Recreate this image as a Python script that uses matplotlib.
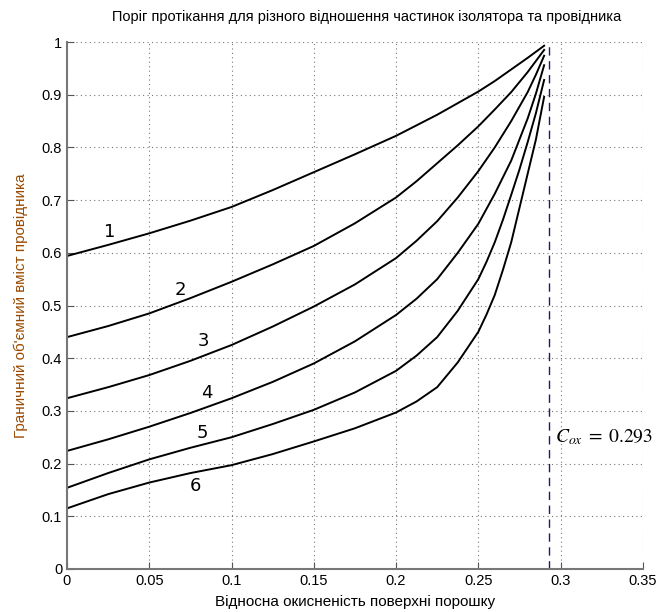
import numpy as np
import matplotlib
matplotlib.use('Agg')
import matplotlib.pyplot as plt

plt.rcParams['font.family'] = ['Liberation Sans', 'DejaVu Sans']
plt.rcParams['mathtext.fontset'] = 'stix'

# Data (surface oxidation vs threshold conductor fraction)
x1 = [0, 0.025, 0.05, 0.075, 0.1, 0.125, 0.15, 0.175, 0.2, 0.225, 0.2375,
      0.25, 0.26, 0.27, 0.28, 0.29]
y1 = [0.594, 0.615, 0.637, 0.661, 0.687, 0.719, 0.753, 0.787, 0.822, 0.862,
      0.884, 0.906, 0.926, 0.948, 0.970, 0.993]

x2 = [0, 0.025, 0.05, 0.075, 0.1, 0.125, 0.15, 0.175, 0.2, 0.2125, 0.225,
      0.2375, 0.25, 0.26, 0.27, 0.28, 0.29]
y2 = [0.440, 0.461, 0.485, 0.514, 0.545, 0.578, 0.613, 0.656, 0.705, 0.736,
      0.770, 0.804, 0.840, 0.872, 0.905, 0.943, 0.985]

x3 = [0, 0.025, 0.05, 0.075, 0.1, 0.125, 0.15, 0.175, 0.2, 0.2125, 0.225,
      0.2375, 0.25, 0.26, 0.27, 0.28, 0.285, 0.29]
y3 = [0.324, 0.345, 0.368, 0.395, 0.425, 0.460, 0.498, 0.540, 0.590, 0.623,
      0.660, 0.705, 0.755, 0.800, 0.850, 0.905, 0.938, 0.974]

x4 = [0, 0.025, 0.05, 0.075, 0.1, 0.125, 0.15, 0.175, 0.2, 0.2125, 0.225,
      0.2375, 0.25, 0.26, 0.27, 0.28, 0.285, 0.29]
y4 = [0.224, 0.246, 0.270, 0.296, 0.324, 0.355, 0.390, 0.432, 0.482, 0.513,
      0.550, 0.600, 0.655, 0.712, 0.775, 0.855, 0.902, 0.956]

x5 = [0, 0.025, 0.05, 0.075, 0.1, 0.125, 0.15, 0.175, 0.2, 0.2125, 0.225,
      0.2375, 0.25, 0.255, 0.26, 0.265, 0.27, 0.275, 0.28, 0.285, 0.29]
y5 = [0.154, 0.182, 0.208, 0.230, 0.250, 0.275, 0.302, 0.335, 0.376, 0.405,
      0.440, 0.490, 0.550, 0.583, 0.620, 0.663, 0.710, 0.758, 0.810, 0.865,
      0.928]

x6 = [0, 0.025, 0.05, 0.075, 0.1, 0.125, 0.15, 0.175, 0.2, 0.2125, 0.225,
      0.2375, 0.25, 0.255, 0.26, 0.265, 0.27, 0.275, 0.28, 0.285, 0.29]
y6 = [0.115, 0.142, 0.164, 0.182, 0.197, 0.218, 0.242, 0.267, 0.297, 0.318,
      0.345, 0.392, 0.450, 0.483, 0.520, 0.568, 0.620, 0.685, 0.750, 0.815,
      0.896]

curves = [(x1, y1), (x2, y2), (x3, y3), (x4, y4), (x5, y5), (x6, y6)]
labels = ['1', '2', '3', '4', '5', '6']
label_x = [0.026, 0.069, 0.083, 0.085, 0.082, 0.078]
label_y = [0.640, 0.530, 0.433, 0.334, 0.258, 0.157]

c_ox = 0.293

fig = plt.figure(figsize=(6.6, 6.12), dpi=100)
ax = fig.add_axes([0.1015, 0.0703, 0.8725, 0.8610])

for (xs, ys) in curves:
    ax.plot(xs, ys, color='black', linewidth=1.4)

for lab, lx, ly in zip(labels, label_x, label_y):
    ax.text(lx, ly, lab, fontsize=13, ha='center', va='center',
            family=['DejaVu Sans'])

ax.axvline(c_ox, color='#1a1a6e', linestyle=(0, (6, 4)), linewidth=1.0)
ax.text(0.2965, 0.25, r'$C_{ox}\;=\;0.293$', fontsize=14, va='center',
        ha='left')

ax.set_xlim(0, 0.35)
ax.set_ylim(0, 1)
ax.set_xticks([0, 0.05, 0.1, 0.15, 0.2, 0.25, 0.3, 0.35])
ax.set_xticklabels(['0', '0.05', '0.1', '0.15', '0.2', '0.25', '0.3', '0.35'])
ax.set_yticks(np.arange(0, 1.01, 0.1))
ax.set_yticklabels(['0', '0.1', '0.2', '0.3', '0.4', '0.5', '0.6', '0.7',
                    '0.8', '0.9', '1'])
ax.tick_params(direction='in', length=5, labelsize=10.5, color='#555555')
ax.grid(True, linestyle=(0, (1, 3)), color='#777777', linewidth=0.8)

for side in ['top', 'right']:
    ax.spines[side].set_visible(False)
for side in ['left', 'bottom']:
    ax.spines[side].set_color('#777777')
    ax.spines[side].set_linewidth(1.5)

ax.set_xlabel('Відносна окисненість поверхні порошку', fontsize=11,
              labelpad=5)
ax.set_ylabel('Граничний об\'ємний вміст провідника', fontsize=11,
              color='#9a4a00', labelpad=10)

fig.text(0.555, 0.972, 'Поріг протікання для різного відношення частинок ізолятора та провідника',
         fontsize=10.5, ha='center', va='center')

plt.savefig('out.png', dpi=100)
